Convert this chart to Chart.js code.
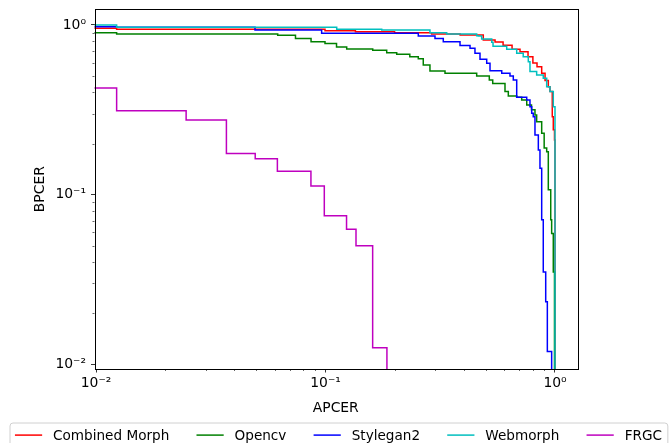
<!DOCTYPE html>
<html>
<head>
<meta charset="utf-8">
<script src="https://cdn.jsdelivr.net/npm/chart.js@4.4.1/dist/chart.umd.min.js"></script>
<style>
  html, body { margin: 0; padding: 0; background: #fff; }
  #wrap { width: 670px; height: 443px; }
</style>
</head>
<body>
<div id="wrap"><canvas id="chart" width="670" height="443"></canvas></div>
<script>
// series names and colours (matplotlib r, g, b, c, m)
const seriesNames = ['Combined Morph', 'Opencv', 'Stylegan2', 'Webmorph', 'FRGC'];
const seriesColors = ['#ff0000', '#008000', '#0000ff', '#00bfbf', '#bf00bf'];

// step points: APCER where each step starts, BPCER after the step (0 -> 0.001, off the log axis)
const morphApcer = [0.001, 0.0123, 0.0995, 0.135, 0.2, 0.29, 0.386, 0.487, 0.548, 0.594, 0.65, 0.704, 0.763, 0.801, 0.835, 0.875, 0.905, 0.935, 0.951, 0.973, 0.983, 0.995, 1.0];
const morphBpcer = [0.956, 0.943, 0.926, 0.911, 0.9, 0.885, 0.873, 0.816, 0.794, 0.76, 0.72, 0.696, 0.65, 0.597, 0.568, 0.52, 0.47, 0.433, 0.405, 0.288, 0.241, 0.21, 0.001];

const opencvApcer = [0.001, 0.0123, 0.0619, 0.074, 0.0865, 0.0995, 0.1117, 0.1237, 0.1606, 0.1848, 0.2043, 0.233, 0.2537, 0.2667, 0.2852, 0.3317, 0.4558, 0.5173, 0.5353, 0.6055, 0.626, 0.681, 0.716, 0.753, 0.79, 0.818, 0.832, 0.875, 0.897, 0.92, 0.935, 0.958, 0.967, 0.983, 0.995];
const opencvBpcer = [0.901, 0.885, 0.87, 0.833, 0.797, 0.778, 0.742, 0.722, 0.71, 0.685, 0.672, 0.65, 0.633, 0.58, 0.536, 0.519, 0.5, 0.474, 0.452, 0.405, 0.382, 0.375, 0.361, 0.338, 0.316, 0.295, 0.269, 0.23, 0.188, 0.179, 0.107, 0.071, 0.059, 0.035, 0.001];

const styleganApcer = [0.001, 0.0123, 0.0493, 0.0962, 0.2537, 0.3, 0.326, 0.3856, 0.4263, 0.448, 0.4712, 0.504, 0.521, 0.586, 0.6366, 0.6581, 0.681, 0.753, 0.778, 0.7915, 0.804, 0.818, 0.846, 0.86, 0.875, 0.889, 0.911, 0.926, 0.967];
const styleganBpcer = [0.977, 0.969, 0.935, 0.894, 0.861, 0.833, 0.797, 0.757, 0.729, 0.681, 0.628, 0.595, 0.538, 0.519, 0.5, 0.474, 0.375, 0.361, 0.33, 0.302, 0.288, 0.225, 0.183, 0.143, 0.071, 0.035, 0.0234, 0.0119, 0.001];

const webmorphApcer = [0.001, 0.0123, 0.1119, 0.1758, 0.2852, 0.3374, 0.4558, 0.4633, 0.479, 0.53, 0.537, 0.616, 0.681, 0.727, 0.765, 0.778, 0.832, 0.889, 0.92, 0.951, 0.983, 1.0];
const webmorphBpcer = [1.0, 0.969, 0.943, 0.934, 0.901, 0.885, 0.865, 0.861, 0.827, 0.792, 0.75, 0.719, 0.681, 0.65, 0.608, 0.531, 0.507, 0.485, 0.433, 0.405, 0.33, 0.001];

const frgcApcer = [0.001, 0.0123, 0.0247, 0.037, 0.0494, 0.0617, 0.0864, 0.0988, 0.1235, 0.1358, 0.1605, 0.1852];
const frgcBpcer = [0.425, 0.3125, 0.275, 0.175, 0.1625, 0.1375, 0.1125, 0.075, 0.0625, 0.05, 0.0125, 0.001];

const majorTicks = [0.01, 0.1, 1];
const tickLabels = ['10\u207B\u00B2', '10\u207B\u00B9', '10\u2070'];

const xRange = [0.00985, 1.247];
const yRange = [0.00938, 1.237];

const allApcer = [morphApcer, opencvApcer, styleganApcer, webmorphApcer, frgcApcer];
const allBpcer = [morphBpcer, opencvBpcer, styleganBpcer, webmorphBpcer, frgcBpcer];

const FONT = 'DejaVu Sans';
const FS = 13.9;

const datasets = seriesNames.map((name, i) => ({
  label: name,
  data: allApcer[i].map((x, k) => ({ x: x, y: allBpcer[i][k] })),
  borderColor: seriesColors[i],
  backgroundColor: seriesColors[i],
  borderWidth: 1.5,
  pointRadius: 0,
  stepped: true,
  fill: false,
  clip: 0,
  order: seriesNames.length - i
}));

function labelFor(v) {
  const i = majorTicks.findIndex(t => Math.abs(Math.log10(t) - Math.log10(v)) < 1e-6);
  return i >= 0 ? tickLabels[i] : '';
}

function noLabelPadding(s) {
  s.paddingTop = 0; s.paddingBottom = 0; s.paddingLeft = 0; s.paddingRight = 0;
}

// frame + minor ticks, like matplotlib spines
const frameAndMinor = {
  id: 'frameAndMinor',
  afterDatasetsDraw(chart) {
    const { ctx, chartArea: a, scales } = chart;
    ctx.save();
    ctx.strokeStyle = '#000';
    ctx.lineWidth = 0.6;
    for (let d = -3; d <= 0; d++) {
      for (let m = 2; m <= 9; m++) {
        const v = m * Math.pow(10, d);
        if (v > xRange[0] && v < xRange[1]) {
          const px = Math.round(scales.x.getPixelForValue(v)) + 0.5;
          ctx.beginPath(); ctx.moveTo(px, a.bottom); ctx.lineTo(px, a.bottom + 2); ctx.stroke();
        }
        if (v > yRange[0] && v < yRange[1]) {
          const py = Math.round(scales.y.getPixelForValue(v)) + 0.5;
          ctx.beginPath(); ctx.moveTo(a.left, py); ctx.lineTo(a.left - 2, py); ctx.stroke();
        }
      }
    }
    ctx.lineWidth = 1;
    ctx.strokeRect(Math.round(a.left) + 0.5, Math.round(a.top) + 0.5, Math.round(a.right - a.left), Math.round(a.bottom - a.top));
    ctx.restore();
  }
};

// legend below the axes, 5 columns
const bottomLegend = {
  id: 'bottomLegend',
  afterDraw(chart) {
    const { ctx, chartArea: a } = chart;
    const fs = 13.6;
    ctx.save();
    ctx.font = fs + 'px "' + FONT + '"';
    const handle = 2 * fs, gap = 0.8 * fs, colGap = 2 * fs, pad = 0.4 * fs;
    const items = chart.data.datasets.map(ds => ({ label: ds.label, color: ds.borderColor, w: ctx.measureText(ds.label).width }));
    const inner = items.reduce((s, it) => s + handle + gap + it.w, 0) + colGap * (items.length - 1);
    const left = a.left - 85;
    const top = a.bottom + 53.5;
    const h = 2 * pad + fs * 1.2;
    const w = inner + 2 * pad;
    ctx.fillStyle = 'rgba(255,255,255,0.8)';
    ctx.strokeStyle = '#d0d0d0';
    ctx.lineWidth = 1;
    ctx.beginPath();
    ctx.roundRect(left + 0.5, top + 0.5, w, h, 3);
    ctx.fill();
    ctx.stroke();
    let x = left + pad;
    const cy = top + h / 2 - 1;
    ctx.textBaseline = 'middle';
    ctx.textAlign = 'left';
    items.forEach(it => {
      ctx.strokeStyle = it.color;
      ctx.lineWidth = 1.5;
      ctx.beginPath(); ctx.moveTo(x, cy); ctx.lineTo(x + handle, cy); ctx.stroke();
      ctx.fillStyle = '#000';
      ctx.fillText(it.label, x + handle + gap, cy + 1);
      x += handle + gap + it.w + colGap;
    });
    ctx.restore();
  }
};

new Chart(document.getElementById('chart'), {
  type: 'line',
  data: { datasets: datasets },
  options: {
    responsive: false,
    animation: false,
    layout: { padding: { left: 0, top: 9.3, right: 93, bottom: 0 } },
    plugins: { legend: { display: false }, tooltip: { enabled: false } },
    scales: {
      x: {
        type: 'logarithmic',
        min: xRange[0],
        max: xRange[1],
        afterBuildTicks: s => { s.ticks = majorTicks.map(v => ({ value: v, major: true })); },
        afterFit: s => { s.height = 74; noLabelPadding(s); },
        ticks: {
          autoSkip: false, maxRotation: 0, padding: 3, color: '#000',
          font: { family: FONT, size: FS },
          callback: v => labelFor(v)
        },
        grid: { drawOnChartArea: false, drawTicks: true, tickLength: 3.5, tickWidth: 0.8, tickColor: '#000' },
        border: { display: false },
        title: { display: true, text: 'APCER', color: '#000', font: { family: FONT, size: FS }, padding: { top: 0, bottom: 26.5 } }
      },
      y: {
        type: 'logarithmic',
        min: yRange[0],
        max: yRange[1],
        afterBuildTicks: s => { s.ticks = majorTicks.map(v => ({ value: v, major: true })); },
        afterFit: s => { s.width = 94.5; noLabelPadding(s); },
        ticks: {
          autoSkip: false, padding: 5, color: '#000',
          font: { family: FONT, size: FS },
          callback: v => labelFor(v)
        },
        grid: { drawOnChartArea: false, drawTicks: true, tickLength: 3.5, tickWidth: 0.8, tickColor: '#000' },
        border: { display: false },
        title: { display: true, text: 'BPCER', color: '#000', font: { family: FONT, size: FS }, padding: { top: 31.7, bottom: 0 } }
      }
    }
  },
  plugins: [frameAndMinor, bottomLegend]
});
</script>
</body>
</html>
